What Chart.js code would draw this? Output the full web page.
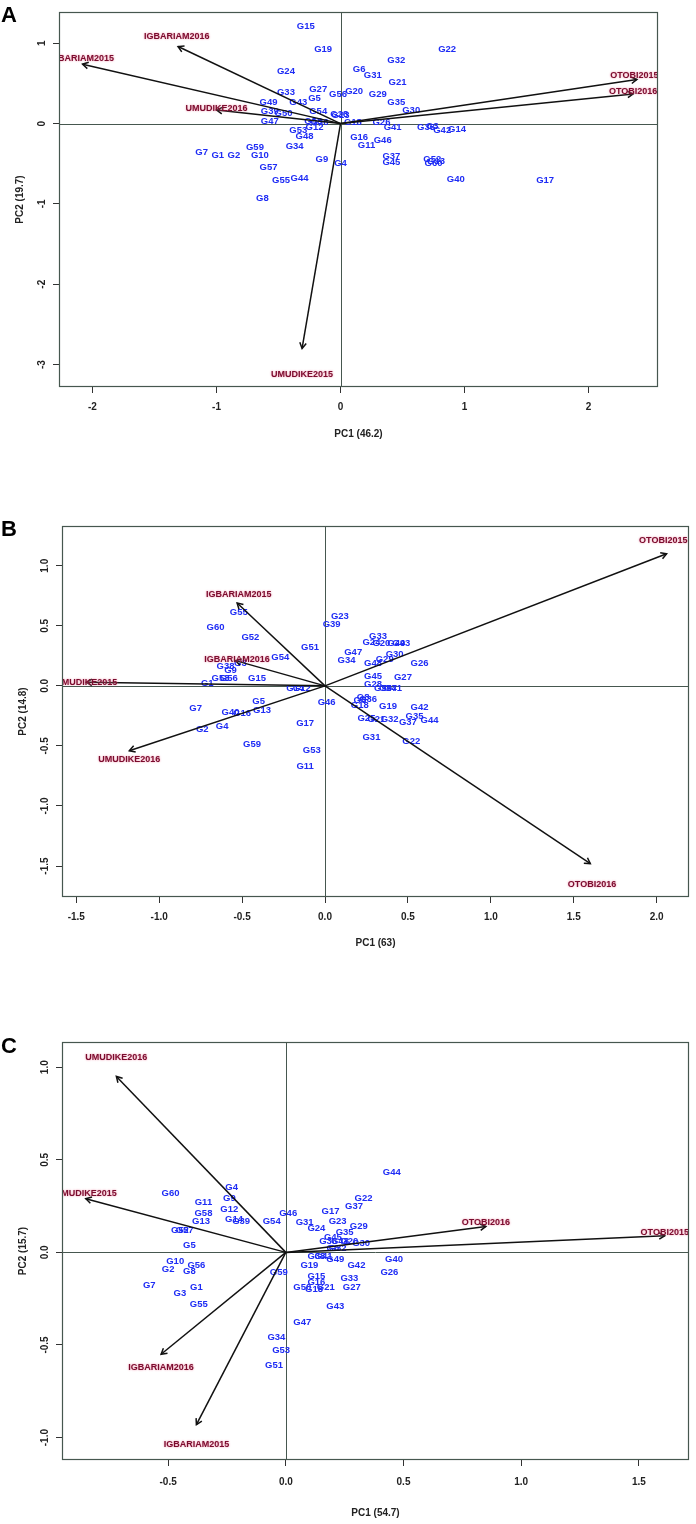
<!DOCTYPE html>
<html>
<head>
<meta charset="utf-8">
<script src="https://cdn.jsdelivr.net/npm/chart.js@4.4.0/dist/chart.umd.min.js"></script>
<style>
  body { margin: 0; background: #fff; width: 696px; height: 1524px; position: relative; overflow: hidden; }
  canvas { position: absolute; left: 0; }
  .tag { position: absolute; left: 1px; font: bold 22px "Liberation Sans", Arial, sans-serif; color: #000; }
</style>
</head>
<body>
<canvas id="panelA" width="696" height="450" style="top:0"></canvas>
<canvas id="panelB" width="696" height="459" style="top:500px"></canvas>
<canvas id="panelC" width="696" height="524" style="top:1000px"></canvas>
<div class="tag" style="top:2px">A</div>
<div class="tag" style="top:516px">B</div>
<div class="tag" style="top:1033px">C</div>
<script>
// ---- panel A : genotype scores ----
const genoA = ['G15','G19','G24','G33','G27','G5','G43','G56','G20','G49','G39','G50','G47','G54','G58','G36','G28','G23','G53','G12','G48','G34','G9','G4','G7','G1','G2','G59','G10','G57','G55','G44','G8','G22','G32','G6','G31','G21','G29','G35','G30','G18','G26','G41','G38','G3','G42','G14','G16','G11','G46','G37','G45','G52','G60','G13','G40','G17'];
const pc1A = [-0.28,-0.14,-0.44,-0.44,-0.18,-0.21,-0.34,-0.02,0.11,-0.58,-0.57,-0.46,-0.57,-0.18,-0.22,-0.17,-0.01,0.00,-0.34,-0.21,-0.29,-0.37,-0.15,0.00,-1.12,-0.99,-0.86,-0.69,-0.65,-0.58,-0.48,-0.33,-0.63,0.86,0.45,0.15,0.26,0.46,0.30,0.45,0.57,0.10,0.33,0.42,0.69,0.74,0.82,0.94,0.15,0.21,0.34,0.41,0.41,0.74,0.75,0.77,0.93,1.65];
const pc2A = [1.21,0.92,0.65,0.39,0.43,0.31,0.27,0.37,0.40,0.27,0.15,0.13,0.03,0.15,0.03,0.02,0.12,0.10,-0.08,-0.05,-0.16,-0.28,-0.44,-0.49,-0.36,-0.40,-0.39,-0.29,-0.39,-0.54,-0.71,-0.68,-0.93,0.93,0.79,0.67,0.60,0.51,0.37,0.27,0.16,0.02,0.02,-0.05,-0.05,-0.03,-0.08,-0.07,-0.17,-0.27,-0.21,-0.41,-0.48,-0.44,-0.49,-0.47,-0.69,-0.71];
// environment vectors
const envA = ['IGBARIAM2016','IGBARIAM2015','UMUDIKE2016','UMUDIKE2015','OTOBI2015','OTOBI2016'];
const envTipXA = [-1.31,-2.08,-1.00,-0.31,2.39,2.36];
const envTipYA = [0.96,0.74,0.17,-2.80,0.55,0.37];
const envLabXA = [-1.32,-2.09,-1.00,-0.31,2.37,2.36];
const envLabYA = [1.09,0.81,0.19,-3.12,0.60,0.40];
const xTicksA = ['-2','-1','0','1','2'];
const yTicksA = ['-3','-2','-1','0','1'];

// ---- panel B ----
const genoB = ['G55','G60','G52','G51','G54','G23','G39','G38','G9','G3','G58','G56','G1','G15','G14','G12','G46','G5','G7','G40','G16','G13','G2','G4','G17','G59','G53','G11','G33','G24','G20','G49','G43','G47','G34','G30','G29','G48','G26','G45','G27','G28','G50','G41','G57','G8','G36','G6','G18','G19','G42','G35','G44','G37','G32','G21','G25','G31','G22'];
const pc1B = [-0.52,-0.66,-0.45,-0.09,-0.27,0.09,0.04,-0.60,-0.57,-0.51,-0.63,-0.58,-0.71,-0.41,-0.18,-0.14,0.01,-0.40,-0.78,-0.57,-0.50,-0.38,-0.74,-0.62,-0.12,-0.44,-0.08,-0.12,0.32,0.28,0.34,0.43,0.46,0.17,0.13,0.42,0.36,0.29,0.57,0.29,0.47,0.29,0.35,0.41,0.38,0.23,0.26,0.21,0.21,0.38,0.57,0.54,0.63,0.50,0.39,0.31,0.25,0.28,0.52];
const pc2B = [0.61,0.49,0.40,0.32,0.24,0.58,0.51,0.16,0.13,0.19,0.06,0.06,0.02,0.06,-0.02,-0.02,-0.14,-0.13,-0.19,-0.22,-0.23,-0.20,-0.36,-0.34,-0.31,-0.49,-0.54,-0.67,0.41,0.36,0.35,0.35,0.35,0.28,0.21,0.26,0.22,0.19,0.19,0.08,0.07,0.01,-0.02,-0.02,-0.02,-0.10,-0.11,-0.12,-0.16,-0.17,-0.18,-0.25,-0.29,-0.30,-0.28,-0.28,-0.27,-0.43,-0.46];
const envB = ['OTOBI2015','IGBARIAM2015','IGBARIAM2016','UMUDIKE2015','UMUDIKE2016','OTOBI2016'];
const envTipXB = [2.06,-0.53,-0.54,-1.44,-1.18,1.60];
const envTipYB = [1.10,0.69,0.21,0.03,-0.54,-1.48];
const envLabXB = [2.04,-0.52,-0.53,-1.44,-1.18,1.61];
const envLabYB = [1.21,0.76,0.22,0.03,-0.61,-1.65];
const xTicksB = ['-1.5','-1.0','-0.5','0.0','0.5','1.0','1.5','2.0'];
const yTicksB = ['-1.5','-1.0','-0.5','0.0','0.5','1.0'];

// ---- panel C ----
const genoC = ['G4','G9','G60','G11','G58','G13','G12','G14','G39','G54','G46','G31','G24','G17','G23','G52','G57','G5','G44','G22','G37','G29','G35','G45','G36','G48','G20','G30','G6','G32','G41','G49','G38','G19','G10','G2','G56','G8','G7','G3','G1','G55','G59','G42','G40','G26','G33','G27','G15','G16','G21','G50','G18','G43','G47','G34','G53','G51'];
const pc1C = [-0.23,-0.24,-0.49,-0.35,-0.35,-0.36,-0.24,-0.22,-0.19,-0.06,0.01,0.08,0.13,0.19,0.22,-0.45,-0.43,-0.41,0.45,0.33,0.29,0.31,0.25,0.20,0.18,0.23,0.27,0.32,0.20,0.22,0.16,0.21,0.13,0.10,-0.47,-0.50,-0.38,-0.41,-0.58,-0.45,-0.38,-0.37,-0.03,0.30,0.46,0.44,0.27,0.28,0.13,0.13,0.17,0.07,0.12,0.21,0.07,-0.04,-0.02,-0.05];
const pc2C = [0.35,0.29,0.32,0.27,0.21,0.17,0.23,0.18,0.17,0.17,0.21,0.16,0.13,0.22,0.17,0.12,0.12,0.04,0.43,0.29,0.25,0.14,0.11,0.08,0.06,0.06,0.06,0.05,0.02,0.02,-0.02,-0.04,-0.02,-0.07,-0.05,-0.09,-0.07,-0.10,-0.18,-0.22,-0.19,-0.28,-0.11,-0.07,-0.04,-0.11,-0.14,-0.19,-0.13,-0.16,-0.19,-0.19,-0.20,-0.29,-0.38,-0.46,-0.53,-0.61];
const envC = ['UMUDIKE2016','UMUDIKE2015','OTOBI2016','OTOBI2015','IGBARIAM2016','IGBARIAM2015'];
const envTipXC = [-0.72,-0.85,0.85,1.61,-0.53,-0.38];
const envTipYC = [0.95,0.29,0.14,0.09,-0.55,-0.93];
const envLabXC = [-0.72,-0.85,0.85,1.61,-0.53,-0.38];
const envLabYC = [1.05,0.32,0.16,0.11,-0.62,-1.04];
const xTicksC = ['-0.5','0.0','0.5','1.0','1.5'];
const yTicksC = ['-1.0','-0.5','0.0','0.5','1.0'];

Chart.defaults.font.family = '"Liberation Sans", Arial, sans-serif';

const frameColor = '#46574f';

const biplot = {
  id: 'biplot',
  beforeDatasetsDraw(chart) {
    const { ctx, chartArea: a, scales: { x, y } } = chart;
    ctx.save();
    ctx.strokeStyle = frameColor;
    ctx.lineWidth = 1;
    const x0 = Math.round(x.getPixelForValue(0)) + 0.5;
    const y0 = Math.round(y.getPixelForValue(0)) + 0.5;
    ctx.beginPath();
    ctx.moveTo(a.left, y0); ctx.lineTo(a.right, y0);
    ctx.moveTo(x0, a.top); ctx.lineTo(x0, a.bottom);
    ctx.stroke();
    // genotype names
    ctx.beginPath();
    ctx.rect(a.left, a.top, a.right - a.left, a.bottom - a.top);
    ctx.clip();
    chart.data.datasets.forEach((ds, di) => {
      if (ds.role !== 'geno') return;
      ctx.font = 'bold 9.5px "Liberation Sans", Arial, sans-serif';
      ctx.fillStyle = '#1e2cf5';
      ctx.textAlign = 'center';
      ctx.textBaseline = 'middle';
      chart.getDatasetMeta(di).data.forEach((pt, i) => {
        ctx.fillText(ds.textLabels[i], pt.x, pt.y);
      });
    });
    ctx.restore();
  },
  afterDatasetsDraw(chart) {
    const { ctx, chartArea: a } = chart;
    ctx.save();
    ctx.beginPath();
    ctx.rect(a.left, a.top, a.right - a.left, a.bottom - a.top);
    ctx.clip();
    chart.data.datasets.forEach((ds, di) => {
      const pts = chart.getDatasetMeta(di).data;
      if (ds.role === 'arrow') {
        const o = pts[0], t = pts[1];
        const ang = Math.atan2(t.y - o.y, t.x - o.x);
        const L = 6.5, W = Math.PI / 6;
        ctx.strokeStyle = '#111';
        ctx.lineWidth = 1.5;
        ctx.beginPath();
        ctx.moveTo(t.x - L * Math.cos(ang - W), t.y - L * Math.sin(ang - W));
        ctx.lineTo(t.x, t.y);
        ctx.lineTo(t.x - L * Math.cos(ang + W), t.y - L * Math.sin(ang + W));
        ctx.stroke();
      }
    });
    chart.data.datasets.forEach((ds, di) => {
      if (ds.role !== 'env') return;
      ctx.font = 'bold 9px "Liberation Sans", Arial, sans-serif';
      ctx.fillStyle = '#7a0c2e';
      ctx.textAlign = 'center';
      ctx.textBaseline = 'middle';
      ctx.shadowColor = 'rgba(235,120,150,0.9)';
      ctx.shadowBlur = 2;
      chart.getDatasetMeta(di).data.forEach((pt, i) => {
        ctx.fillText(ds.textLabels[i], pt.x, pt.y);
      });
    });
    ctx.restore();
    ctx.save();
    ctx.strokeStyle = frameColor;
    ctx.lineWidth = 1.2;
    ctx.strokeRect(a.left + 0.5, a.top + 0.5, a.right - a.left - 1, a.bottom - a.top - 1);
    ctx.restore();
  }
};

function buildPanel(id, p) {
  const datasets = [{
    role: 'geno', textLabels: p.geno, pointRadius: 0,
    data: p.geno.map((g, i) => ({ x: p.gx[i], y: p.gy[i] }))
  }];
  p.env.forEach((e, i) => {
    datasets.push({
      role: 'arrow', showLine: true, borderColor: '#111', borderWidth: 1.5, pointRadius: 0,
      data: [{ x: 0, y: 0 }, { x: p.ex[i], y: p.ey[i] }]
    });
  });
  datasets.push({
    role: 'env', textLabels: p.env, pointRadius: 0,
    data: p.env.map((e, i) => ({ x: p.lx[i], y: p.ly[i] }))
  });

  const tickFont = { size: 10, weight: 'bold' };
  new Chart(document.getElementById(id), {
    type: 'scatter',
    data: { datasets },
    options: {
      responsive: false,
      animation: false,
      events: [],
      layout: { padding: { top: p.padTop, right: p.padRight, left: 0, bottom: 0 } },
      plugins: { legend: { display: false }, tooltip: { enabled: false } },
      scales: {
        x: {
          type: 'linear', min: p.xMin, max: p.xMax,
          afterBuildTicks: s => { s.ticks = p.xTicks.map(t => ({ value: Number(t) })); },
          afterFit: s => { s.height = p.xH; },
          ticks: { autoSkip: false, minRotation: 0, maxRotation: 0, padding: p.xTickPad, color: '#222', font: tickFont,
                   callback: (v, i) => p.xTicks[i] },
          grid: { drawOnChartArea: false, tickLength: 6, color: '#333' },
          border: { display: false },
          title: { display: true, text: p.xTitle, color: '#222', font: tickFont, padding: { top: 0, bottom: p.xTitlePad } }
        },
        y: {
          type: 'linear', min: p.yMin, max: p.yMax,
          afterBuildTicks: s => { s.ticks = p.yTicks.map(t => ({ value: Number(t) })); },
          afterFit: s => { s.width = p.yW; },
          ticks: { autoSkip: false, minRotation: 90, maxRotation: 90, crossAlign: 'center', padding: p.yTickPad, color: '#222', font: tickFont,
                   callback: (v, i) => p.yTicks[i] },
          grid: { drawOnChartArea: false, tickLength: 6, color: '#333' },
          border: { display: false },
          title: { display: true, text: p.yTitle, color: '#222', font: tickFont, padding: { top: p.yTitlePad, bottom: 0 } }
        }
      }
    },
    plugins: [biplot]
  });
}

buildPanel('panelA', {
  geno: genoA, gx: pc1A, gy: pc2A,
  env: envA, ex: envTipXA, ey: envTipYA, lx: envLabXA, ly: envLabYA,
  xTicks: xTicksA, yTicks: yTicksA,
  xMin: -2.27, xMax: 2.56, yMin: -3.28, yMax: 1.39,
  xTitle: 'PC1 (46.2)', yTitle: 'PC2 (19.7)',
  padTop: 12, padRight: 38, yW: 59, xH: 63,
  xTickPad: 8, xTitlePad: 10, yTickPad: 6, yTitlePad: 14
});

buildPanel('panelB', {
  geno: genoB, gx: pc1B, gy: pc2B,
  env: envB, ex: envTipXB, ey: envTipYB, lx: envLabXB, ly: envLabYB,
  xTicks: xTicksB, yTicks: yTicksB,
  xMin: -1.586, xMax: 2.195, yMin: -1.758, yMax: 1.331,
  xTitle: 'PC1 (63)', yTitle: 'PC2 (14.8)',
  padTop: 26, padRight: 7, yW: 62, xH: 62,
  xTickPad: 8, xTitlePad: 10, yTickPad: 2, yTitlePad: 17
});

buildPanel('panelC', {
  geno: genoC, gx: pc1C, gy: pc2C,
  env: envC, ex: envTipXC, ey: envTipYC, lx: envLabXC, ly: envLabYC,
  xTicks: xTicksC, yTicks: yTicksC,
  xMin: -0.951, xMax: 1.713, yMin: -1.121, yMax: 1.136,
  xTitle: 'PC1 (54.7)', yTitle: 'PC2 (15.7)',
  padTop: 42, padRight: 7, yW: 62, xH: 64,
  xTickPad: 10, xTitlePad: 5, yTickPad: 2, yTitlePad: 17
});
</script>
</body>
</html>
